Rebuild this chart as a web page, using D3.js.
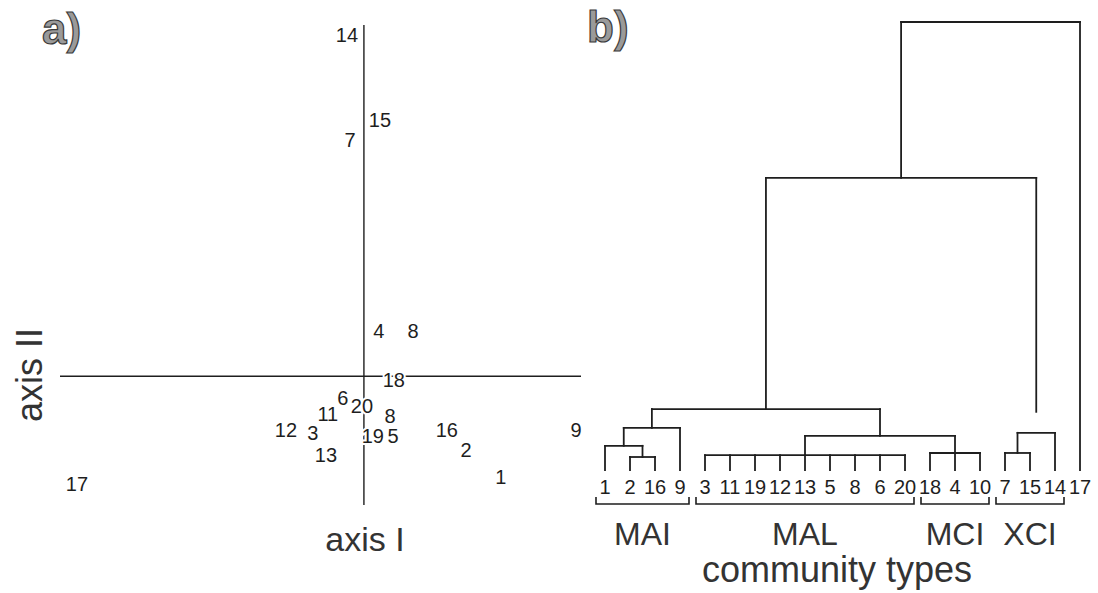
<!DOCTYPE html>
<html lang="en">

<head>
    <meta charset="UTF-8">
    <title>ordination and dendrogram</title>
    <script src="https://cdn.jsdelivr.net/npm/d3@7"></script>
    <style>
        body { margin: 0; background: #fff; }
        text { font-family: "Liberation Sans", Arial, Helvetica, sans-serif; }
    </style>
</head>

<body>
    <svg width="1098" height="593" id="mainsvg"></svg>
    <script>
        // panel a: site scores on the two ordination axes
        const siteLabels = ['14', '15', '7', '4', '8', '18', '6', '20', '11', '8', '12', '3', '19', '5', '16', '2', '9', '13', '1', '17'];
        const axisOne = [-0.078, 0.074, -0.064, 0.069, 0.226, 0.138, -0.097, -0.009, -0.166, 0.120, -0.359, -0.235, 0.041, 0.134, 0.382, 0.470, 0.977, -0.175, 0.631, -1.322];
        const axisTwo = [1.456, 1.093, 1.008, 0.192, 0.192, -0.017, -0.094, -0.128, -0.162, -0.171, -0.231, -0.243, -0.256, -0.256, -0.231, -0.316, -0.231, -0.337, -0.431, -0.461];

        // panel b: leaf order, merges and merge heights
        const leafOrder = ['1', '2', '16', '9', '3', '11', '19', '12', '13', '5', '8', '6', '20', '18', '4', '10', '7', '15', '14', '17'];
        const clusterIds = ['c1', 'c2', 'MAI', 'MAL', 'MCI', 'c6', 'c7', 'XCI', 'c9', 'c10', 'root'];
        const clusterKids = [
            ['2', '16'], ['1', 'c1'], ['c2', '9'],
            ['3', '11', '19', '12', '13', '5', '8', '6', '20'],
            ['18', '4', '10'], ['MAL', 'MCI'],
            ['7', '15'], ['c7', '14'],
            ['MAI', 'c6'], ['c9', 'XCI'], ['c10', '17']
        ];
        const clusterHeights = [0.029, 0.054, 0.094, 0.033, 0.038, 0.076, 0.038, 0.083, 0.136, 0.652, 1.0];
        const groupNames = ['MAI', 'MAL', 'MCI', 'XCI'];
        const groupFirst = ['1', '3', '18', '7'];
        const groupLast = ['9', '20', '10', '14'];

        const svg = d3.select('#mainsvg');
        const ink = '#1e1e1e';

        // ---------- panel a ----------
        const x = d3.scaleLinear().domain([-1.4, 1.0]).range([60, 581]);
        const y = d3.scaleLinear().domain([-0.55, 1.5]).range([505, 25]);
        const ga = svg.append('g');

        ga.append('line')
            .attr('x1', x(-1.4)).attr('x2', x(1.0))
            .attr('y1', y(0)).attr('y2', y(0))
            .attr('stroke', ink).attr('stroke-width', 1.6);
        ga.append('line')
            .attr('x1', x(0)).attr('x2', x(0))
            .attr('y1', y(1.5)).attr('y2', y(-0.55))
            .attr('stroke', ink).attr('stroke-width', 1.4);

        ga.selectAll('text.site').data(siteLabels).enter()
            .append('text')
            .attr('class', 'site')
            .attr('x', (d, i) => x(axisOne[i]))
            .attr('y', (d, i) => y(axisTwo[i]))
            .attr('text-anchor', 'middle')
            .attr('dominant-baseline', 'central')
            .attr('font-size', 20)
            .attr('fill', ink)
            .attr('stroke', '#fff').attr('stroke-width', 4)
            .attr('paint-order', 'stroke')
            .text(d => d);

        ga.append('text')
            .attr('x', 365).attr('y', 551)
            .attr('text-anchor', 'middle')
            .attr('font-size', 34)
            .attr('fill', '#333')
            .text('axis I');
        ga.append('text')
            .attr('transform', 'translate(42,375) rotate(-90)')
            .attr('text-anchor', 'middle')
            .attr('font-size', 36)
            .attr('fill', '#333')
            .text('axis II');

        // ---------- panel b ----------
        const lx = d3.scalePoint().domain(leafOrder).range([605, 1080]);
        const h = d3.scaleLinear().domain([0, 1]).range([470, 22]);
        const gb = svg.append('g');

        const pos = {};
        leafOrder.forEach(id => pos[id] = { x: lx(id), y: h(0) });
        clusterIds.forEach((id, i) => {
            const xs = clusterKids[i].map(k => pos[k].x);
            pos[id] = { x: (d3.min(xs) + d3.max(xs)) / 2, y: h(clusterHeights[i]), lo: d3.min(xs), hi: d3.max(xs) };
        });

        // the stem above XCI is broken in the original drawing
        const stemGap = { XCI: 21 };

        const links = [];
        clusterIds.forEach((id, i) => {
            const p = pos[id];
            links.push([p.lo, p.y, p.hi, p.y]);
            clusterKids[i].forEach(k => {
                links.push([pos[k].x, p.y, pos[k].x, pos[k].y - (stemGap[k] || 0)]);
            });
        });

        gb.selectAll('line.link').data(links).enter()
            .append('line')
            .attr('class', 'link')
            .attr('x1', d => d[0]).attr('y1', d => d[1])
            .attr('x2', d => d[2]).attr('y2', d => d[3])
            .attr('stroke', ink)
            .attr('stroke-width', 1.8)
            .attr('stroke-linecap', 'square');

        gb.selectAll('text.leaf').data(leafOrder).enter()
            .append('text')
            .attr('class', 'leaf')
            .attr('x', d => lx(d))
            .attr('y', 494)
            .attr('text-anchor', 'middle')
            .attr('font-size', 20)
            .attr('fill', ink)
            .text(d => d);

        // brackets under the leaves
        const brackets = gb.selectAll('g.grp').data(groupNames).enter()
            .append('g').attr('class', 'grp');
        brackets.append('path')
            .attr('d', (d, i) => {
                const x0 = lx(groupFirst[i]) - 9, x1 = lx(groupLast[i]) + 9;
                return `M${x0},497 V504 H${x1} V497`;
            })
            .attr('fill', 'none')
            .attr('stroke', ink)
            .attr('stroke-width', 1.6);
        brackets.append('text')
            .attr('x', (d, i) => (lx(groupFirst[i]) + lx(groupLast[i])) / 2)
            .attr('y', 545)
            .attr('text-anchor', 'middle')
            .attr('font-size', 32)
            .attr('fill', '#333')
            .text(d => d);

        gb.append('text')
            .attr('x', 837).attr('y', 582)
            .attr('text-anchor', 'middle')
            .attr('font-size', 36)
            .attr('fill', '#333')
            .text('community types');

        // panel letters
        svg.selectAll('text.panel').data(['a)', 'b)']).enter()
            .append('text')
            .attr('class', 'panel')
            .attr('x', (d, i) => i ? 587 : 42)
            .attr('y', (d, i) => i ? 42 : 44)
            .attr('font-size', 44)
            .attr('font-weight', 'bold')
            .attr('fill', '#9a9a9a')
            .attr('stroke', '#3a3a3a')
            .attr('stroke-width', 1.2)
            .text(d => d);
    </script>
</body>

</html>
